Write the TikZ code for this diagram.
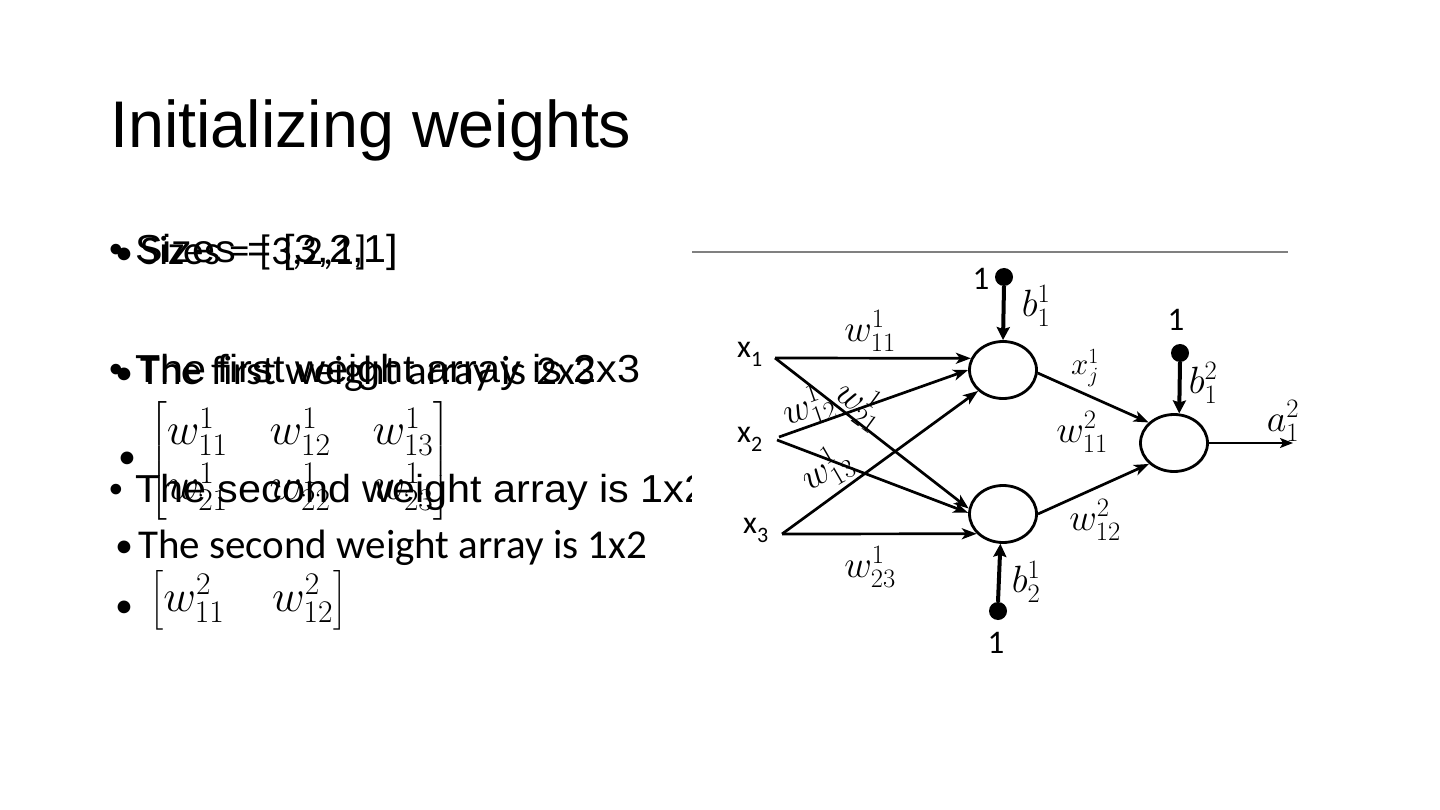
\RequirePackage{fix-cm}
\documentclass[tikz,border=0pt]{standalone}
\usepackage{amsmath}
\usepackage{fontspec}
\setmainfont{Carlito}
\newfontfamily\arialf{Liberation Sans}
\newfontfamily\calibfont{Carlito}
\usetikzlibrary{arrows.meta,shapes.geometric}
\tikzset{
  titletext/.style={anchor=base west, inner sep=0, font=\arialf\fontsize{66}{79}\selectfont, xscale=0.98},
  layA/.style={anchor=base west, inner sep=0, font=\arialf\fontsize{39}{47}\selectfont, xscale=1.06},
  layB/.style={anchor=base west, inner sep=0, font=\calibfont\fontsize{41}{49}\selectfont},
  bulA/.style={anchor=base, inner sep=0, font=\arialf\fontsize{39}{47}\selectfont},
  bulB/.style={anchor=base, inner sep=0, font=\calibfont\fontsize{36}{44}\selectfont},
  mathB/.style={inner sep=0, font=\fontsize{45}{48}\selectfont},
  neuron/.style={ellipse, draw, line width=2.8pt, minimum width=67pt, minimum height=57pt, inner sep=0},
  conn/.style={line width=2.7pt, -{Stealth[length=15pt,width=11pt,inset=4pt]}},
  outarrow/.style={line width=2pt, -{Stealth[length=13pt,width=10pt,inset=3pt]}},
  bias/.style={line width=4pt, -{Stealth[length=13pt,width=13pt,inset=2pt]}},
  biasdot/.style={circle, fill, inner sep=0, minimum size=18pt},
  wl/.style={inner sep=0, font=\fontsize{38}{42}\selectfont},
  onelabel/.style={inner sep=0, font=\calibfont\fontsize{33}{40}\selectfont},
  xin/.style={anchor=base west, inner sep=0, font=\calibfont\fontsize{32}{38}\selectfont},
}
\begin{document}
\begin{tikzpicture}[x=1pt,y=-1pt]
\useasboundingbox (0,0) rectangle (1440,810);
\fill[white] (0,0) rectangle (1440,810);

% title
\node[titletext] (title) at (110,148) {Initializing weights};

% layer A (larger sans text)
\node[bulA] (ba1) at (116,263) {•};
\node[layA] (ta1) at (135,263) {Sizes = [3,2,1]};
\node[bulA] (ba2) at (116,382) {•};
\node[layA] (ta2) at (135,382) {The first weight array is 2x3};
\node[bulA] (ba3) at (116,502) {•};
\node[layA] (ta3) at (135,502) {The second weight array is 1x2};

% layer B (Calibri-like text)
\node[bulB] (bb1) at (124,265) {•};
\node[layB] (tb1) at (140,265) {Sizes = [3,2,1]};
\node[bulB] (bb2) at (124,384) {•};
\node[layB] (tb2) at (140,384) {The first weight array is 2x3};
\node[bulB] (bb3) at (127,468) {•};
\node[mathB, anchor=west] (mat1) at (150,461)
  {\setlength\arraycolsep{21pt}\def\arraystretch{1.15}$\left[\begin{matrix} w^{1}_{11} & w^{1}_{12} & w^{1}_{13}\\ w^{1}_{21} & w^{1}_{22} & w^{1}_{23}\end{matrix}\right]$};
\node[bulB] (bb4) at (124,557) {•};
\node[layB] (tb4) at (138,558) {The second weight array is 1x2};
\node[bulB] (bb5) at (124,617) {•};
\node[mathB, anchor=west] (mat2) at (150,600)
  {\setlength\arraycolsep{24pt}$\left[\begin{matrix} w^{2}_{11} & w^{2}_{12}\end{matrix}\right]$};

% picture area
\fill[white] (692,244) rectangle (1292,664);
\coordinate (ruleL) at (692,252);
\coordinate (ruleR) at (1288,252);
\draw[gray, line width=1.5pt] (ruleL) -- (ruleR);

% neurons
\node[neuron] (h1) at (1003,370) {};
\node[neuron] (h2) at (1003,514) {};
\node[neuron] (o) at (1174,443) {};

% inputs
\node[xin] (x1) at (737,357) {x\raisebox{-9pt}{\fontsize{22}{22}\selectfont 1}};
\node[xin] (x2) at (737,442) {x\raisebox{-9pt}{\fontsize{22}{22}\selectfont 2}};
\node[xin] (x3) at (743,533) {x\raisebox{-9pt}{\fontsize{22}{22}\selectfont 3}};
\coordinate (s1) at (775,358);
\coordinate (s2a) at (779,437);
\coordinate (s2b) at (777,440);
\coordinate (s3) at (782,534);

\draw[conn] (s1) -- (h1.160);
\draw[conn] (s1) -- (h2.171);
\draw[conn] (s2a) -- (h1.180);
\draw[conn] (s2b) -- (h2.178);
\draw[conn] (s3) -- (h1.220);
\draw[conn] (s3) -- (h2.217);

\draw[conn] (h1.-5) -- (o.141);
\draw[conn] (h2.east) -- (o.220);
\coordinate (oend) at (1293,443);
\draw[outarrow] (o.east) -- (oend);

% biases
\node[biasdot] (d1) at (1004,277) {};
\node[onelabel] (one1) at (981,279) {1};
\draw[bias] (d1.south) -- (h1.north);
\node[biasdot] (d2) at (1180,353) {};
\node[onelabel] (one2) at (1176,320) {1};
\draw[bias] (d2.south) -- (o.80);
\node[biasdot] (d3) at (998,611) {};
\node[onelabel] (one3) at (996,643) {1};
\draw[bias] (d3.north) -- (h2.265);

% labels
\node[wl] (lw11) at (870,331) {$w^{1}_{11}$};
\node[wl, rotate=19] (lw12) at (808,407) {$w^{1}_{12}$};
\node[wl, rotate=-36] (lw21) at (861,404) {$w^{1}_{21}$};
\node[wl, rotate=30] (lw13) at (826,469) {$w^{1}_{13}$};
\node[wl] (lw23) at (870,567) {$w^{1}_{23}$};
\node[wl] (lb11) at (1036,306) {$b^{1}_{1}$};
\node[wl] (lb21) at (1203,383) {$b^{2}_{1}$};
\node[wl] (lb12) at (1026,582) {$b^{1}_{2}$};
\node[wl, font=\fontsize{31}{36}\selectfont] (lxj) at (1085,368) {$x^{1}_{j}$};
\node[wl] (lw211) at (1082,432) {$w^{2}_{11}$};
\node[wl] (lw212) at (1095,520) {$w^{2}_{12}$};
\node[wl] (la) at (1283,421) {$a^{2}_{1}$};
\end{tikzpicture}
\end{document}
